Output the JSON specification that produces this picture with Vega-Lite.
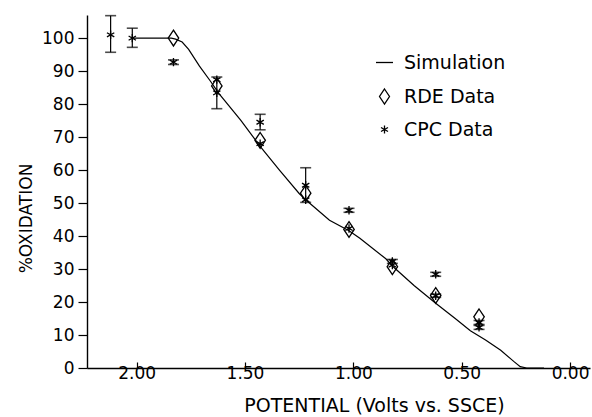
{
  "$schema": "https://vega.github.io/schema/vega-lite/v6.json",
  "width": 503,
  "height": 353,
  "autosize": "none",
  "padding": {"left": 87, "top": 15, "right": 2, "bottom": 49},
  "background": "white",
  "config": {
    "view": {"stroke": null},
    "font": "DejaVu Sans",
    "axis": {"grid": false, "domainColor": "black", "tickColor": "black", "labelColor": "black", "titleColor": "black", "labelFont": "DejaVu Sans", "titleFont": "DejaVu Sans", "titleFontWeight": "normal"},
    "axisY": {
      "title": "%OXIDATION",
      "values": [0, 10, 20, 30, 40, 50, 60, 70, 80, 90, 100],
      "tickSize": 9, "labelPadding": 4, "labelFontSize": 17, "domainWidth": 1.4, "tickWidth": 1.2, "labelOverlap": false,
      "titleFontSize": 17, "titleX": -61, "titleY": 203, "titleBaseline": "middle", "titleAlign": "center", "titleAngle": -90
    }
  },
  "datasets": {
    "sim": [
      {"v": 2.02, "pct": 100}, {"v": 1.9, "pct": 100}, {"v": 1.84, "pct": 100}, {"v": 1.82, "pct": 99.7},
      {"v": 1.79, "pct": 98.8}, {"v": 1.76, "pct": 96.6}, {"v": 1.71, "pct": 91.5}, {"v": 1.66, "pct": 87},
      {"v": 1.62, "pct": 83.2}, {"v": 1.52, "pct": 75.1}, {"v": 1.43, "pct": 67.2}, {"v": 1.34, "pct": 59.9},
      {"v": 1.25, "pct": 52.9}, {"v": 1.22, "pct": 51}, {"v": 1.11, "pct": 44.8}, {"v": 1.02, "pct": 41.6},
      {"v": 0.97, "pct": 39.3}, {"v": 0.85, "pct": 33.1}, {"v": 0.82, "pct": 30.9}, {"v": 0.72, "pct": 25},
      {"v": 0.62, "pct": 19.6}, {"v": 0.53, "pct": 15}, {"v": 0.46, "pct": 11.3}, {"v": 0.39, "pct": 8.5},
      {"v": 0.32, "pct": 5.4}, {"v": 0.26, "pct": 2}, {"v": 0.23, "pct": 0.4}, {"v": 0.2, "pct": 0}, {"v": 0.12, "pct": 0}
    ],
    "err": [
      {"v": 2.12, "lo": 95.7, "hi": 106.8},
      {"v": 2.02, "lo": 97.2, "hi": 103},
      {"v": 1.83, "lo": 92, "hi": 93.4},
      {"v": 1.63, "lo": 78.6, "hi": 88.2},
      {"v": 1.43, "lo": 72.2, "hi": 76.9},
      {"v": 1.22, "lo": 50.2, "hi": 60.7},
      {"v": 1.02, "lo": 47.2, "hi": 48.4},
      {"v": 0.82, "lo": 31.7, "hi": 32.9},
      {"v": 0.62, "lo": 27.8, "hi": 29},
      {"v": 0.62, "lo": 21.4, "hi": 22.4},
      {"v": 0.42, "lo": 13.2, "hi": 14.4},
      {"v": 0.42, "lo": 11.7, "hi": 12.9}
    ],
    "pts": [
      {"v": 1.83, "pct": 100, "series": "RDE Data"},
      {"v": 1.63, "pct": 85.5, "series": "RDE Data"},
      {"v": 1.43, "pct": 69, "series": "RDE Data"},
      {"v": 1.22, "pct": 53, "series": "RDE Data"},
      {"v": 1.02, "pct": 42, "series": "RDE Data"},
      {"v": 0.82, "pct": 30.7, "series": "RDE Data"},
      {"v": 0.62, "pct": 22, "series": "RDE Data"},
      {"v": 0.42, "pct": 15.5, "series": "RDE Data"},
      {"v": 2.12, "pct": 101, "series": "CPC Data"},
      {"v": 2.02, "pct": 100, "series": "CPC Data"},
      {"v": 1.83, "pct": 92.7, "series": "CPC Data"},
      {"v": 1.63, "pct": 87.4, "series": "CPC Data"},
      {"v": 1.63, "pct": 83.4, "series": "CPC Data"},
      {"v": 1.43, "pct": 74.5, "series": "CPC Data"},
      {"v": 1.43, "pct": 68, "series": "CPC Data"},
      {"v": 1.22, "pct": 55.4, "series": "CPC Data"},
      {"v": 1.22, "pct": 51, "series": "CPC Data"},
      {"v": 1.02, "pct": 47.8, "series": "CPC Data"},
      {"v": 1.02, "pct": 42.3, "series": "CPC Data"},
      {"v": 0.82, "pct": 32.3, "series": "CPC Data"},
      {"v": 0.82, "pct": 31.2, "series": "CPC Data"},
      {"v": 0.62, "pct": 28.4, "series": "CPC Data"},
      {"v": 0.62, "pct": 21.9, "series": "CPC Data"},
      {"v": 0.42, "pct": 13.8, "series": "CPC Data"},
      {"v": 0.42, "pct": 12.3, "series": "CPC Data"}
    ]
  },
  "encoding": {
    "x": {
      "field": "v", "type": "quantitative",
      "scale": {"domain": [-0.092, 2.229], "reverse": true, "nice": false, "zero": false},
      "axis": {
        "title": "POTENTIAL (Volts vs. SSCE)",
        "values": [2, 1.5, 1, 0.5, 0], "format": ".2f",
        "tickSize": -6, "labelPadding": 3, "labelFontSize": 17, "domainWidth": 1.6, "tickWidth": 1.2,
        "titleFontSize": 19, "titleX": 287, "titleY": 37, "titleBaseline": "middle", "titleAlign": "center"
      }
    }
  },
  "layer": [
    {
      "data": {"name": "sim"},
      "mark": {"type": "line", "color": "black", "strokeWidth": 1.2},
      "encoding": {
        "y": {"field": "pct", "type": "quantitative", "title": "%OXIDATION", "scale": {"domain": [0, 107], "nice": false}}
      }
    },
    {
      "data": {"name": "err"},
      "mark": {"type": "rule", "color": "black", "strokeWidth": 1.2},
      "encoding": {"y": {"field": "lo", "type": "quantitative", "title": "%OXIDATION"}, "y2": {"field": "hi"}}
    },
    {
      "data": {"name": "err"},
      "mark": {"type": "tick", "color": "black", "orient": "horizontal", "size": 11, "thickness": 1.6},
      "encoding": {"y": {"field": "lo", "type": "quantitative", "title": "%OXIDATION"}}
    },
    {
      "data": {"name": "err"},
      "mark": {"type": "tick", "color": "black", "orient": "horizontal", "size": 11, "thickness": 1.6},
      "encoding": {"y": {"field": "hi", "type": "quantitative", "title": "%OXIDATION"}}
    },
    {
      "data": {"name": "pts"},
      "mark": {"type": "point", "filled": false, "color": "black", "strokeWidth": 1.3, "size": 110, "opacity": 1},
      "encoding": {
        "y": {"field": "pct", "type": "quantitative", "title": "%OXIDATION"},
        "shape": {
          "field": "series", "type": "nominal",
          "scale": {
            "domain": ["Simulation", "RDE Data", "CPC Data"],
            "range": ["M-1.7,0L1.7,0", "M0,-1.5L1,0L0,1.5L-1,0Z", "M0,-0.8L0,0.8M-0.7,-0.4L0.7,0.4M-0.7,0.4L0.7,-0.4"]
          },
          "legend": {
            "title": null, "orient": "none", "legendX": 288, "legendY": 38, "padding": 0,
            "labelFont": "DejaVu Sans", "labelFontSize": 19, "labelColor": "black", "labelOffset": 10,
            "rowPadding": 13, "symbolSize": 100, "symbolStrokeColor": "black", "symbolStrokeWidth": 1.3, "symbolFillColor": "transparent"
          }
        }
      }
    }
  ],
  "resolve": {"scale": {"y": "shared"}}
}
